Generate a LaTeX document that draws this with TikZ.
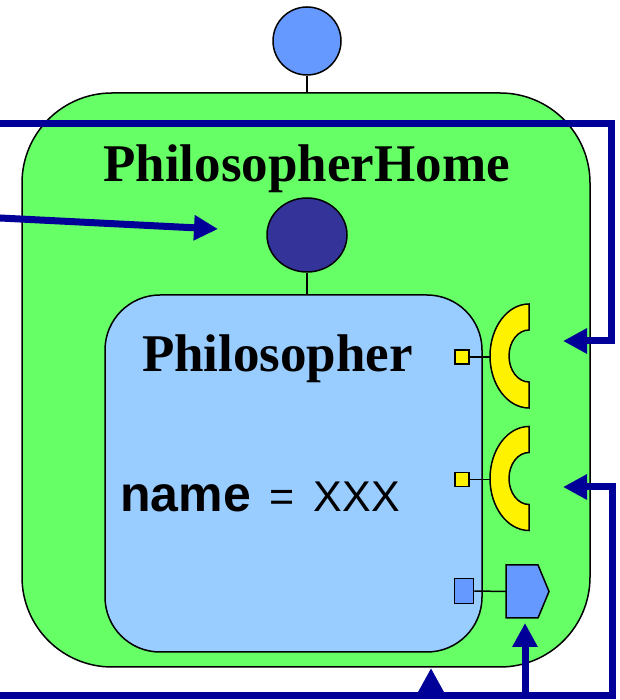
\documentclass[tikz,border=0pt]{standalone}
\usepackage{fontspec}
\setmainfont{Liberation Serif}
\setsansfont{Liberation Sans}
\usetikzlibrary{arrows.meta,shapes.geometric}

\definecolor{homegreen}{HTML}{66FF66}
\definecolor{philblue}{HTML}{99CCFF}
\definecolor{portblue}{HTML}{6699FF}
\definecolor{darkport}{HTML}{333399}
\definecolor{wireblue}{HTML}{000099}

\tikzset{
  outline/.style={draw=black,line width=1.5pt},
  wire/.style={draw=wireblue,line width=7pt},
  wirearrow/.style={wire,-{Triangle[length=24pt,width=24pt]}},
  facetsq/.style={outline,fill=yellow,minimum size=14pt,inner sep=0pt},
  title/.style={font=\fontsize{53}{60}\selectfont\bfseries,inner sep=0pt,anchor=base}
}

\begin{document}
\begin{tikzpicture}[x=1pt,y=1pt]
\useasboundingbox (0,0) rectangle (619,700);

% component boxes
\node[outline,fill=homegreen,rounded corners=90pt,minimum width=568pt,minimum height=574pt,inner sep=0pt] (home) at (306,320) {};
\node[outline,fill=philblue,rounded corners=55pt,minimum width=377pt,minimum height=357pt,inner sep=0pt] (phil) at (293.5,226.5) {};
\node[title] (hometitle) at (306.5,518) {PhilosopherHome};
\node[title] (philtitle) at (277.5,328) {Philosopher};
\node[font=\sffamily,inner sep=0pt,anchor=base west] (attr) at (120,188)
  {\fontsize{50}{56}\selectfont\bfseries name\hspace{19pt}\fontsize{43}{52}\mdseries\selectfont=\hspace{19pt}XXX};

% homes and ports
\node[outline,fill=portblue,circle,minimum size=68pt,inner sep=0pt] (homeport) at (307,659) {};
\draw[outline] (homeport.south) -- (homeport.south |- home.north);
\node[outline,fill=darkport,ellipse,minimum width=80pt,minimum height=74pt,inner sep=0pt] (philport) at (307,465) {};
\draw[outline] (philport.south) -- (philport.south |- phil.north);

\foreach \n/\y in {1/344,2/221.5}{
  \coordinate (fork\n) at (529,\y);
  \node[facetsq] (fork\n sq) at (462,\y-1) {};
  \draw[outline] (fork\n sq.east) -- (490,\y-1);
  \draw[outline,fill=yellow] (fork\n) ++(0,52) -- ++(0,-26)
    arc[start angle=90,end angle=270,x radius=20,y radius=26] -- ++(0,-26)
    arc[start angle=270,end angle=90,x radius=39,y radius=52] -- cycle;
}

\node[outline,fill=portblue,minimum width=19pt,minimum height=25pt,inner sep=0pt] (recsq) at (464,109) {};
\coordinate (recep) at (506,108.5);
\draw[outline,fill=portblue] (recep) ++(0,-26.5) -- ++(32,0) -- ++(11,26.5)
  -- ++(-11,26.5) -- ++(-32,0) -- cycle;
\draw[outline] (recsq.east) -- (recep);

% connections
\coordinate (topin) at (0,576);
\coordinate (midin) at (0,482);
\coordinate (lowin) at (0,4);
\coordinate (forkin1) at (563,359);
\coordinate (forkin2) at (563,213);
\coordinate (homein) at (431,32);
\coordinate (recin) at (525,77);
\draw[wirearrow] (topin) -- (611,576) -- (611,359) -- (forkin1);
\draw[wirearrow] (midin) -- (218,471);
\draw[wirearrow] (lowin) -- (612,4) -- (612,213) -- (forkin2);
\draw[wirearrow] (recin |- lowin) -- (recin);
\draw[wirearrow] (homein |- lowin) -- (homein);
\end{tikzpicture}
\end{document}
